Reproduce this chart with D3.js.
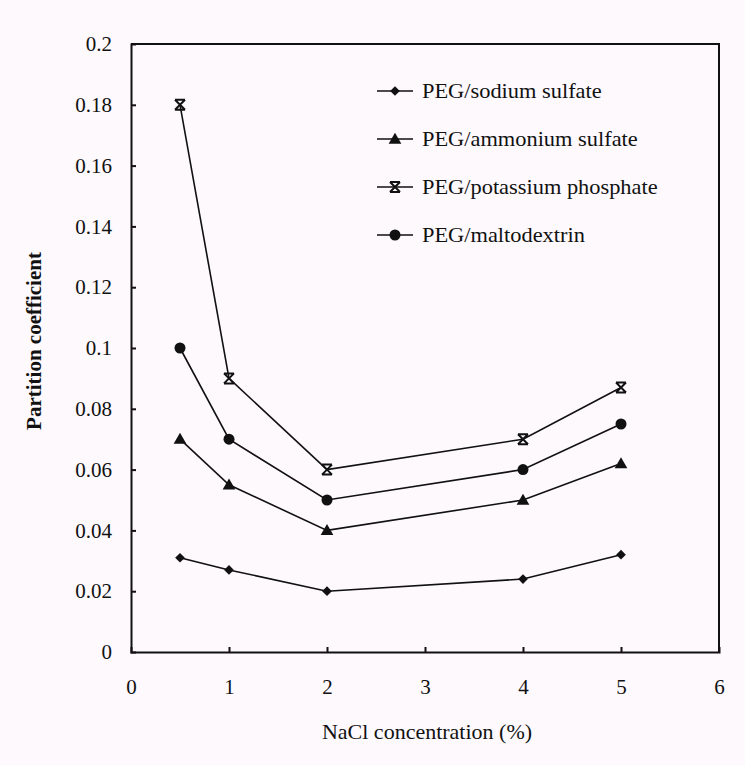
<!DOCTYPE html>
<html>
<head>
<meta charset="utf-8">
<style>
  body { margin: 0; background: #fdf9fd; }
  svg { display: block; }
  text { font-family: "Times New Roman", "Liberation Serif", "DejaVu Serif", serif; fill: #111; }
</style>
</head>
<body>
<div id="container"></div>
<script src="https://cdn.jsdelivr.net/npm/d3@7"></script>
<script>
// chart data
const nacl = [0.5, 1, 2, 4, 5];
const seriesNames = ["PEG/sodium sulfate", "PEG/ammonium sulfate", "PEG/potassium phosphate", "PEG/maltodextrin"];
const sodiumSulfate = [0.031, 0.027, 0.020, 0.024, 0.032];
const ammoniumSulfate = [0.070, 0.055, 0.040, 0.050, 0.062];
const potassiumPhosphate = [0.180, 0.090, 0.060, 0.070, 0.087];
const maltodextrin = [0.100, 0.070, 0.050, 0.060, 0.075];
const xTicks = [0, 1, 2, 3, 4, 5, 6];
const yTicks = [0, 0.02, 0.04, 0.06, 0.08, 0.1, 0.12, 0.14, 0.16, 0.18, 0.2];

const seriesValues = [sodiumSulfate, ammoniumSulfate, potassiumPhosphate, maltodextrin];
const markerKinds = ["diamond", "triangle", "star", "circle"];

const width = 745, height = 765;
const svg = d3.select("#container")
    .append("svg")
    .attr("width", width)
    .attr("height", height);

svg.append("rect")
    .attr("width", width)
    .attr("height", height)
    .attr("fill", "#fdf9fd");

const x = d3.scaleLinear().domain([0, 6]).range([131, 719]);
const y = d3.scaleLinear().domain([0, 0.2]).range([652, 44]);

// frame (top + right sides)
svg.append("path")
    .attr("d", `M${x(0)},${y(0.2)}H${x(6)}V${y(0)}`)
    .attr("fill", "none")
    .attr("stroke", "#111")
    .attr("stroke-width", 2);

// axes
const yAxis = svg.append("g")
    .attr("transform", `translate(${x(0)},0)`)
    .call(d3.axisLeft(y)
        .tickValues(yTicks)
        .tickSize(-5)
        .tickPadding(19)
        .tickFormat(d => String(+d.toFixed(2))));

const xAxis = svg.append("g")
    .attr("transform", `translate(0,${y(0)})`)
    .call(d3.axisBottom(x)
        .tickValues(xTicks)
        .tickSize(-5)
        .tickPadding(27)
        .tickFormat(d => d));

[yAxis, xAxis].forEach(g => {
    g.select(".domain").attr("stroke", "#111").attr("stroke-width", 2);
    g.selectAll(".tick line").attr("stroke", "#111").attr("stroke-width", 2);
    g.selectAll(".tick text")
        .attr("font-size", 21)
        .attr("fill", "#111");
});
// no inner tick at the corners
yAxis.selectAll(".tick").filter(d => d === 0 || d === 0.2).select("line").remove();
xAxis.selectAll(".tick").filter(d => d === 0 || d === 6).select("line").remove();

// axis titles
svg.append("text")
    .attr("x", 427)
    .attr("y", 739)
    .attr("text-anchor", "middle")
    .attr("font-size", 22)
    .text("NaCl concentration (%)");

svg.append("text")
    .attr("transform", "translate(41,341) rotate(-90)")
    .attr("text-anchor", "middle")
    .attr("font-size", 21)
    .attr("font-weight", "bold")
    .text("Partition coefficient");

// marker drawing
function drawMarker(g, kind, cx, cy) {
    if (kind === "diamond") {
        g.append("path")
            .attr("d", d3.symbol(d3.symbolDiamond2, 60)())
            .attr("transform", `translate(${cx},${cy})`)
            .attr("fill", "#111");
    } else if (kind === "triangle") {
        g.append("path")
            .attr("d", d3.symbol(d3.symbolTriangle, 70)())
            .attr("transform", `translate(${cx},${cy + 1})`)
            .attr("fill", "#111");
    } else if (kind === "circle") {
        g.append("circle")
            .attr("cx", cx).attr("cy", cy).attr("r", 5.5)
            .attr("fill", "#111");
    } else {
        const r = 5;
        g.append("path")
            .attr("d", `M${-r},${-r}L${r},${r}M${r},${-r}L${-r},${r}M${-r},${-r}H${r}M${-r},${r}H${r}`)
            .attr("transform", `translate(${cx},${cy})`)
            .attr("fill", "none")
            .attr("stroke", "#111")
            .attr("stroke-width", 2);
    }
}

const line = d3.line()
    .x((d, i) => x(nacl[i]))
    .y(d => y(d));

seriesValues.forEach((vals, s) => {
    const g = svg.append("g");
    g.append("path")
        .attr("d", line(vals))
        .attr("fill", "none")
        .attr("stroke", "#111")
        .attr("stroke-width", 1.6);
    vals.forEach((v, i) => drawMarker(g, markerKinds[s], x(nacl[i]), y(v)));
});

// legend
const legend = svg.append("g").attr("transform", "translate(377,91)");
seriesNames.forEach((name, s) => {
    const row = legend.append("g").attr("transform", `translate(0,${s * 48})`);
    row.append("line")
        .attr("x1", 0).attr("x2", 36)
        .attr("stroke", "#111").attr("stroke-width", 1.6);
    drawMarker(row, markerKinds[s], 18, 0);
    // scanned legend text is a bit wide, so stretch it horizontally
    row.append("text")
        .attr("transform", "translate(45,0) scale(1.12,1)")
        .attr("dy", "0.35em")
        .attr("font-size", 20)
        .text(name);
});
</script>
</body>
</html>
